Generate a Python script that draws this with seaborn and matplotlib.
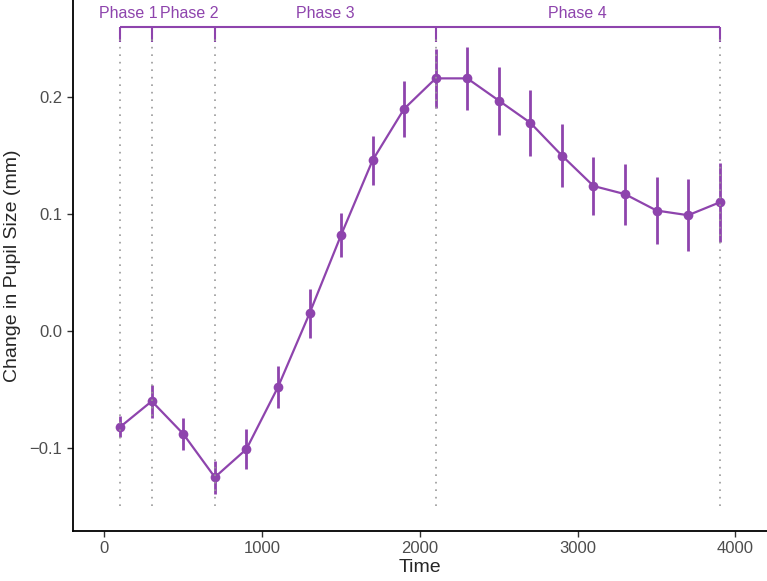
import numpy as np
import pandas as pd
import seaborn as sns
import matplotlib.pyplot as plt

# data
time = [100, 300, 500, 700, 900, 1100, 1300, 1500, 1700, 1900,
        2100, 2300, 2500, 2700, 2900, 3100, 3300, 3500, 3700, 3900]
pupil = [-0.082, -0.060, -0.088, -0.125, -0.101, -0.048, 0.015, 0.082, 0.146, 0.190,
         0.216, 0.216, 0.197, 0.178, 0.150, 0.124, 0.117, 0.103, 0.099, 0.110]
se = [0.009, 0.014, 0.014, 0.014, 0.017, 0.018, 0.021, 0.019, 0.021, 0.024,
      0.025, 0.027, 0.029, 0.028, 0.027, 0.025, 0.026, 0.029, 0.031, 0.034]

phase_bounds = [100, 300, 700, 2100, 3900]
phase_names = ['Phase 1', 'Phase 2', 'Phase 3', 'Phase 4']
phase_label_x = [150, 540, 1400, 3000]

df = pd.DataFrame({'time': time, 'pupil': pupil, 'se': se})

purple = '#8E44AD'

sns.set_style('white')
plt.rcParams['font.family'] = ['Liberation Sans', 'DejaVu Sans']

fig = plt.figure(figsize=(7.67, 5.81), dpi=100)
ax = fig.add_axes([0.095, 0.086, 0.905, 0.914])

# error bars
ax.vlines(df['time'], df['pupil'] - df['se'], df['pupil'] + df['se'],
          color=purple, lw=2, zorder=2)

sns.lineplot(data=df, x='time', y='pupil', color=purple, lw=1.6,
             marker='o', markersize=7, markeredgewidth=0, ax=ax, zorder=3)

# phase boundaries
ax.vlines(phase_bounds, -0.15, 0.25, color='#999999', lw=1.2,
          linestyles=(0, (1, 3.5)), zorder=4)
ax.hlines(0.26, phase_bounds[0], phase_bounds[-1], color=purple, lw=1.5)
ax.vlines(phase_bounds, 0.247, 0.26, color=purple, lw=1.5)
for name, px in zip(phase_names, phase_label_x):
    ax.text(px, 0.265, name, color=purple, ha='center', va='bottom', fontsize=11.5)

ax.set_xlim(-200, 4200)
ax.set_ylim(-0.171, 0.283)
ax.set_xticks([0, 1000, 2000, 3000, 4000])
ax.set_yticks([-0.1, 0.0, 0.1, 0.2])
ax.set_yticklabels(['\u22120.1', '0.0', '0.1', '0.2'])

ax.set_xlabel('Time', fontsize=14, labelpad=2)
ax.set_ylabel('Change in Pupil Size (mm)', fontsize=14, labelpad=6)

sns.despine(ax=ax)
for s in ['left', 'bottom']:
    ax.spines[s].set_color('black')
    ax.spines[s].set_linewidth(1.3)
ax.tick_params(axis='both', which='major', direction='out', length=4, width=1,
               color='#333333', labelcolor='#4D4D4D', labelsize=12, left=True, bottom=True)

fig.savefig('out.png', dpi=100)
